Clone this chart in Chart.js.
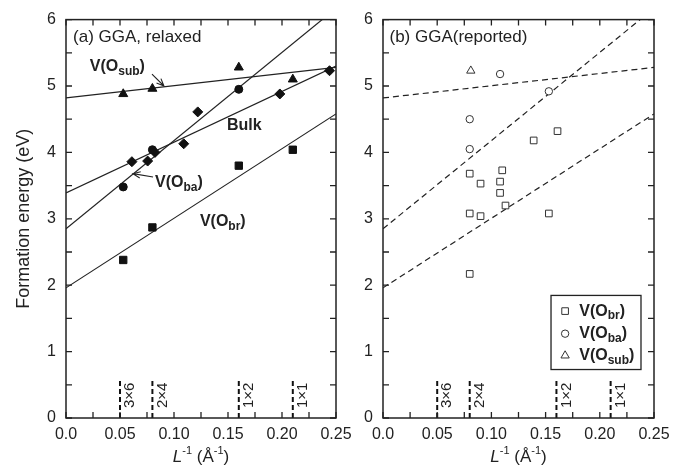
<!DOCTYPE html>
<html>
<head>
<meta charset="utf-8">
<script src="https://cdn.jsdelivr.net/npm/chart.js@4.4.1/dist/chart.umd.min.js"></script>
<style>
html,body{margin:0;padding:0;background:#fff;}
#wrap{position:relative;width:682px;height:470px;}
#wrap canvas{position:absolute;left:0;top:0;}
</style>
</head>
<body>
<div id="wrap">
<canvas id="chartA" width="682" height="470"></canvas>
<canvas id="chartB" width="682" height="470"></canvas>
</div>
<script>
// tick labels
const xTickLabels = ["0.0","0.05","0.10","0.15","0.20","0.25"];
const yTickLabels = ["0","1","2","3","4","5","6"];

// (a) GGA, relaxed  - filled markers
const subA_x = [0.053, 0.080, 0.160, 0.210];
const subA_y = [4.88, 4.96, 5.28, 5.10];
const baA_x = [0.053, 0.080, 0.160];
const baA_y = [3.48, 4.04, 4.95];
const bulkA_x = [0.061, 0.0756, 0.0824, 0.109, 0.122, 0.198, 0.244];
const bulkA_y = [3.86, 3.87, 4.00, 4.13, 4.61, 4.88, 5.23];
const brA_x = [0.053, 0.080, 0.160, 0.210];
const brA_y = [2.38, 2.87, 3.80, 4.04];

// (b) GGA(reported) - open markers
const brB_x = [0.080, 0.090, 0.110, 0.108, 0.108, 0.113, 0.080, 0.090, 0.153, 0.139, 0.161, 0.080];
const brB_y = [3.68, 3.53, 3.73, 3.56, 3.39, 3.20, 3.08, 3.04, 3.08, 4.18, 4.32, 2.17];
const baB_x = [0.108, 0.153, 0.080, 0.080];
const baB_y = [5.18, 4.92, 4.50, 4.05];
const subB_x = [0.081];
const subB_y = [5.23];

// fitted lines: value at L^-1 = 0 and at L^-1 = 0.25
const fitNames = ["sub", "ba", "bulk", "br"];
const fitStart = [4.82, 2.85, 3.39, 1.96];
const fitEnd = [5.28, 6.17, 5.30, 4.58];

// surface cells
const reconX = [0.05, 0.08, 0.16, 0.21];
const reconLabels = ["3\u00d76", "2\u00d74", "1\u00d72", "1\u00d71"];
const reconTop = 0.6;

const FONT = '"Liberation Sans", Arial, Helvetica, sans-serif';
const INK = "#222";

function pts(xs, ys){ return xs.map((x,i)=>({x:x, y:ys[i]})); }

function fitLine(name, dash){
  const i = fitNames.indexOf(name);
  return {type:"line", data:[{x:0,y:fitStart[i]},{x:0.25,y:fitEnd[i]}], showLine:true,
    borderColor:INK, borderWidth:1.2, borderDash:dash, pointRadius:0, order:2};
}

function reconLines(){
  return reconX.map(x=>({type:"line", data:[{x:x,y:0},{x:x,y:reconTop}], showLine:true,
    borderColor:"#111", borderWidth:2, borderDash:[5,3], pointRadius:0, order:2}));
}

function marks(xs, ys, style, r, open){
  return {data:pts(xs,ys), pointStyle:style, pointRadius:r, showLine:false,
    pointBackgroundColor: open ? "#fff" : "#111", pointBorderColor: open ? "#333" : "#111",
    pointBorderWidth:1, order:0};
}

function xLabel(v){
  const k = v/0.05;
  if (Math.abs(k-Math.round(k)) < 1e-6) return xTickLabels[Math.round(k)];
  return "";
}
function yLabel(v){
  if (Math.abs(v-Math.round(v)) < 1e-6) return yTickLabels[Math.round(v)];
  return "";
}

function makeOptions(padLeft, padRight, yWidth, yTitle){
  return {
    responsive:false, animation:false,
    layout:{padding:{left:padLeft, right:padRight, top:15, bottom:0}},
    plugins:{legend:{display:false}, tooltip:{enabled:false}},
    scales:{
      x:{type:"linear", min:0, max:0.25,
        grid:{display:false, drawTicks:false}, border:{display:false},
        ticks:{stepSize:0.025, autoSkip:false, maxRotation:0, padding:7,
          font:{family:FONT, size:16}, color:INK, callback:xLabel},
        afterFit:s=>{ s.height = 52; }},
      y:{type:"linear", min:0, max:6,
        grid:{display:false, drawTicks:false}, border:{display:false},
        ticks:{stepSize:0.5, autoSkip:false, padding:10,
          font:{family:FONT, size:16}, color:INK, callback:yLabel},
        title:{display:!!yTitle, text:yTitle || "", color:INK,
          font:{family:FONT, size:18}, padding:{top:13, bottom:0}},
        afterFit:s=>{ s.width = yWidth; }}
    }
  };
}

// box frame with inward ticks on all four sides
const frame = {
  id:"frame",
  afterDatasetsDraw(chart){
    const {ctx, chartArea:a, scales:{x, y}} = chart;
    ctx.save();
    ctx.strokeStyle = INK;
    ctx.lineWidth = 1.3;
    ctx.beginPath();
    x.ticks.forEach(t=>{
      const p = x.getPixelForValue(t.value);
      ctx.moveTo(p, a.bottom); ctx.lineTo(p, a.bottom-6);
      ctx.moveTo(p, a.top); ctx.lineTo(p, a.top+6);
    });
    y.ticks.forEach(t=>{
      const p = y.getPixelForValue(t.value);
      ctx.moveTo(a.left, p); ctx.lineTo(a.left+6, p);
      ctx.moveTo(a.right, p); ctx.lineTo(a.right-6, p);
    });
    ctx.stroke();
    ctx.lineWidth = 1.5;
    ctx.strokeRect(a.left, a.top, a.right-a.left, a.bottom-a.top);
    ctx.restore();
  }
};

// V(O_xx) with subscript, x = left edge, y = middle
function vLabel(ctx, x, y, sub, size){
  ctx.textAlign = "left";
  ctx.textBaseline = "middle";
  ctx.font = "bold " + size + "px " + FONT;
  ctx.fillText("V(O", x, y);
  let w = ctx.measureText("V(O").width;
  ctx.font = "bold " + Math.round(size*0.72) + "px " + FONT;
  ctx.fillText(sub, x+w, y+size*0.3);
  w += ctx.measureText(sub).width;
  ctx.font = "bold " + size + "px " + FONT;
  ctx.fillText(")", x+w, y);
}

function arrow(ctx, x0, y0, x1, y1){
  const ang = Math.atan2(y1-y0, x1-x0);
  ctx.beginPath();
  ctx.moveTo(x0, y0); ctx.lineTo(x1, y1);
  ctx.moveTo(x1 - 8*Math.cos(ang-0.4), y1 - 8*Math.sin(ang-0.4));
  ctx.lineTo(x1, y1);
  ctx.lineTo(x1 - 8*Math.cos(ang+0.4), y1 - 8*Math.sin(ang+0.4));
  ctx.stroke();
}

function commonText(chart){
  const {ctx, chartArea:a, scales:{x, y}} = chart;
  ctx.fillStyle = INK;
  // cell labels next to the dashed markers
  ctx.font = "15px " + FONT;
  reconX.forEach((v, i)=>{
    ctx.save();
    ctx.translate(x.getPixelForValue(v)+10, y.getPixelForValue(0.15));
    ctx.rotate(-Math.PI/2);
    ctx.textAlign = "left";
    ctx.textBaseline = "middle";
    ctx.fillText(reconLabels[i], 0, 0);
    ctx.restore();
  });
  // x axis title: L^-1 (Å^-1)
  const big = "17px " + FONT, small = "11px " + FONT;
  const parts = [["L","italic "+big,0],["-1",small,-6],[" (\u00c5",big,0],["-1",small,-6],[")",big,0]];
  let total = 0;
  parts.forEach(p=>{ ctx.font = p[1]; total += ctx.measureText(p[0]).width; });
  let cx = (a.left+a.right)/2 - total/2;
  const cy = 457;
  ctx.textAlign = "left";
  ctx.textBaseline = "middle";
  parts.forEach(p=>{ ctx.font = p[1]; ctx.fillText(p[0], cx, cy+p[2]); cx += ctx.measureText(p[0]).width; });
}

const annotA = {
  id:"annotA",
  afterDraw(chart){
    const {ctx, scales:{x, y}} = chart;
    const X = v=>x.getPixelForValue(v), Y = v=>y.getPixelForValue(v);
    ctx.save();
    commonText(chart);
    ctx.fillStyle = INK;
    ctx.strokeStyle = INK;
    ctx.lineWidth = 1.1;
    ctx.textAlign = "left";
    ctx.textBaseline = "middle";
    ctx.font = "17px " + FONT;
    ctx.fillText("(a) GGA, relaxed", X(0.0065), Y(5.73));
    vLabel(ctx, X(0.022), Y(5.29), "sub", 16);
    arrow(ctx, X(0.0796), Y(5.18), X(0.0907), Y(5.0));
    ctx.font = "bold 16px " + FONT;
    ctx.fillText("Bulk", X(0.149), Y(4.41));
    vLabel(ctx, X(0.0824), Y(3.54), "ba", 16);
    arrow(ctx, X(0.0806), Y(3.63), X(0.062), Y(3.68));
    vLabel(ctx, X(0.124), Y(2.96), "br", 16);
    ctx.restore();
  }
};

const annotB = {
  id:"annotB",
  afterDraw(chart){
    const {ctx, scales:{x, y}} = chart;
    const X = v=>x.getPixelForValue(v), Y = v=>y.getPixelForValue(v);
    ctx.save();
    commonText(chart);
    ctx.fillStyle = INK;
    ctx.textAlign = "left";
    ctx.textBaseline = "middle";
    ctx.font = "17px " + FONT;
    ctx.fillText("(b) GGA(reported)", X(0.006), Y(5.73));
    // legend box
    const l = X(0.155), r = X(0.238), t = Y(1.846), b = Y(0.73);
    ctx.fillStyle = "#fff";
    ctx.fillRect(l, t, r-l, b-t);
    ctx.strokeStyle = INK;
    ctx.lineWidth = 1.3;
    ctx.strokeRect(l, t, r-l, b-t);
    const rows = [["rect","br",1.61,4.7],["circle","ba",1.27,3.7],["triangle","sub",0.94,4.8]];
    rows.forEach(row=>{
      const mx = X(0.168), my = Y(row[2]);
      ctx.lineWidth = 1;
      ctx.strokeStyle = "#333";
      ctx.fillStyle = "#fff";
      Chart.helpers.drawPoint(ctx, {pointStyle:row[0], radius:row[3], borderWidth:1}, mx, my);
      ctx.fillStyle = INK;
      vLabel(ctx, X(0.181), my, row[1], 16);
    });
    ctx.restore();
  }
};

new Chart(document.getElementById("chartA"), {
  type:"scatter",
  data:{datasets:[
    marks(subA_x, subA_y, "triangle", 5.2, false),
    marks(baA_x, baA_y, "circle", 4, false),
    marks(bulkA_x, bulkA_y, "rectRot", 5, false),
    marks(brA_x, brA_y, "rect", 5.2, false),
    fitLine("sub", []), fitLine("ba", []), fitLine("bulk", []), fitLine("br", []),
    ...reconLines()
  ]},
  options:makeOptions(0, 346, 66, "Formation energy (eV)"),
  plugins:[frame, annotA]
});

new Chart(document.getElementById("chartB"), {
  type:"scatter",
  data:{datasets:[
    marks(brB_x, brB_y, "rect", 4.7, true),
    marks(baB_x, baB_y, "circle", 3.7, true),
    marks(subB_x, subB_y, "triangle", 4.8, true),
    fitLine("sub", [6,4]), fitLine("ba", [6,4]), fitLine("br", [6,4]),
    ...reconLines()
  ]},
  options:makeOptions(340, 28, 43, ""),
  plugins:[frame, annotB]
});
</script>
</body>
</html>
